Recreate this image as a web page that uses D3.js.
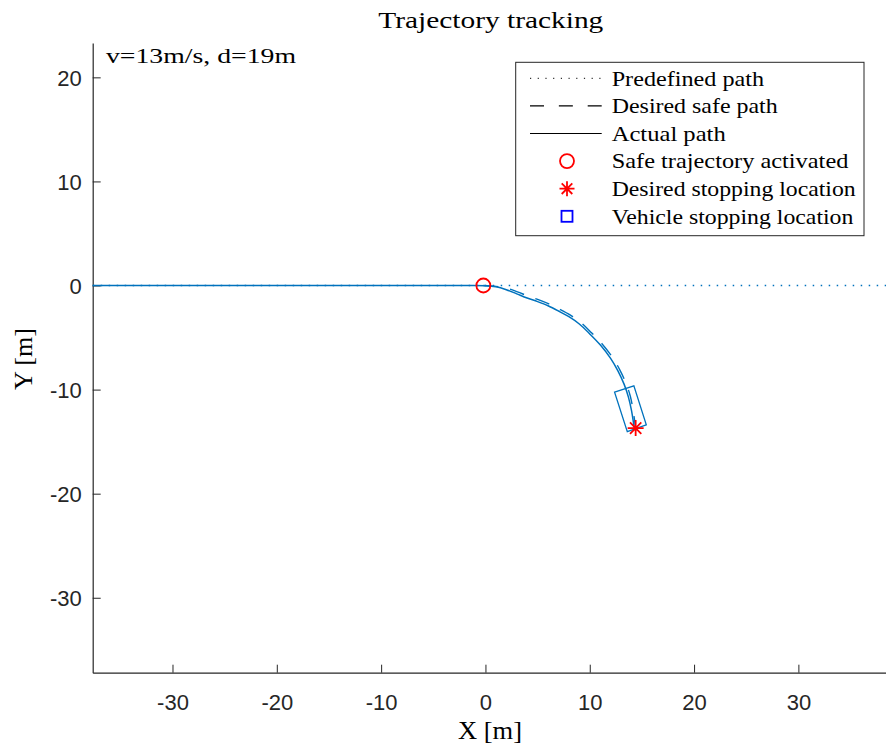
<!DOCTYPE html>
<html>
<head>
<meta charset="utf-8">
<script src="https://cdn.jsdelivr.net/npm/d3@7"></script>
<style>
  html, body { margin: 0; padding: 0; background: #fff; }
  svg { display: block; }
</style>
</head>
<body>
<svg id="chart" width="886" height="746"></svg>
<script>
// ---- data (metres) ----
const xTicks = [-30, -20, -10, 0, 10, 20, 30];
const xTickLabels = ["-30", "-20", "-10", "0", "10", "20", "30"];
const yTicks = [20, 10, 0, -10, -20, -30];
const yTickLabels = ["20", "10", "0", "-10", "-20", "-30"];

// straight reference road
const predefinedPath = [[-37.65, 0], [38.4, 0]];

// planned evasive path once the safe trajectory kicks in
const desiredPath = [
  [-0.2, 0], [1.0, -0.08], [2.05, -0.26], [3.07, -0.61], [4.07, -1.01],
  [5.07, -1.36], [6.08, -1.77], [7.09, -2.27], [8.11, -2.83], [9.13, -3.55],
  [10.14, -4.51], [11.15, -5.57], [12.17, -6.89], [12.88, -8.1], [13.49, -9.43],
  [13.89, -10.64], [14.15, -11.97], [14.4, -13.7]
];

// path actually driven by the vehicle
const actualPath = [
  [-37.65, 0], [-20, 0], [-10, 0], [-2, 0], [0, -0.02], [1, -0.12], [2, -0.4],
  [3, -0.8], [4, -1.2], [5, -1.55], [6, -1.95], [7, -2.45], [8, -3.0],
  [9, -3.7], [10, -4.65], [11, -5.7], [12, -7.0], [12.7, -8.2], [13.3, -9.5],
  [13.7, -10.7], [14.0, -12.0], [14.25, -13.6]
];

// vehicle footprint at rest (corner points)
const vehicleOutline = [[12.38, -10.25], [14.23, -9.64], [15.42, -13.39], [13.6, -14.04]];

const safeActivated = [-0.2, 0];
const desiredStop = [14.4, -13.7];

const legendLabels = [
  "Predefined path", "Desired safe path", "Actual path",
  "Safe trajectory activated", "Desired stopping location", "Vehicle stopping location"
];

// ---- layout ----
const svg = d3.select("#chart");
const plotLeft = 92.7, plotRight = 886, plotTop = 43, plotBottom = 672.7;
const x = d3.scaleLinear().domain([-37.65, 38.4]).range([plotLeft, plotRight]);
const y = d3.scaleLinear().domain([-37.2, 23.3]).range([plotBottom, plotTop]);

const axisColor = "#262626";
const lineBlue = "#0072BD";
const serif = "'Liberation Serif', 'Times New Roman', serif";
const sans = "'Liberation Sans', Arial, Helvetica, sans-serif";

// ---- axes ----
const gx = svg.append("g").attr("transform", `translate(0,${plotBottom})`)
  .call(d3.axisBottom(x).tickValues(xTicks).tickSizeInner(-8).tickSizeOuter(0)
    .tickFormat((d, i) => xTickLabels[i]));
const gy = svg.append("g").attr("transform", `translate(${plotLeft},0)`)
  .call(d3.axisLeft(y).tickValues(yTicks).tickSizeInner(-8).tickSizeOuter(0)
    .tickFormat((d, i) => yTickLabels[i]));

[gx, gy].forEach(g => {
  g.select(".domain").attr("stroke", axisColor).attr("stroke-width", 1.2);
  g.selectAll(".tick line").attr("stroke", axisColor).attr("stroke-width", 1);
  g.selectAll(".tick text").attr("fill", axisColor)
    .style("font-family", sans).style("font-size", "22px");
});
gx.selectAll(".tick text").attr("y", 37.3).attr("dy", null);
gy.selectAll(".tick text").attr("x", -11).attr("dy", "0.35em");

// ---- paths ----
const line = d3.line().x(d => x(d[0])).y(d => y(d[1]));
const smooth = d3.line().x(d => x(d[0])).y(d => y(d[1])).curve(d3.curveCatmullRom.alpha(0.5));

const plot = svg.append("g");
plot.append("path").datum(predefinedPath).attr("d", line)
  .attr("fill", "none").attr("stroke", lineBlue).attr("stroke-width", 1.5)
  .attr("stroke-dasharray", "1.5,6.5");
plot.append("path").datum(desiredPath).attr("d", smooth)
  .attr("fill", "none").attr("stroke", lineBlue).attr("stroke-width", 1.4)
  .attr("stroke-dasharray", "15,12");
plot.append("path").datum(actualPath).attr("d", smooth)
  .attr("fill", "none").attr("stroke", lineBlue).attr("stroke-width", 1.5);
plot.append("path").datum(vehicleOutline).attr("d", d => line(d) + "Z")
  .attr("fill", "none").attr("stroke", lineBlue).attr("stroke-width", 1.3);

// markers
function asterisk(g, cx, cy, r, color) {
  const k = r * Math.SQRT1_2;
  g.append("path")
    .attr("d", `M${cx - r},${cy}L${cx + r},${cy}M${cx},${cy - r}L${cx},${cy + r}` +
      `M${cx - k},${cy - k}L${cx + k},${cy + k}M${cx - k},${cy + k}L${cx + k},${cy - k}`)
    .attr("stroke", color).attr("stroke-width", 1.8).attr("fill", "none");
}
plot.append("circle").attr("cx", x(safeActivated[0])).attr("cy", y(safeActivated[1]))
  .attr("r", 7).attr("fill", "none").attr("stroke", "#ff0000").attr("stroke-width", 1.8);
asterisk(plot, x(desiredStop[0]), y(desiredStop[1]), 8, "#ff0000");

// ---- legend ----
const lg = svg.append("g");
lg.append("rect").attr("x", 515.7).attr("y", 62.3).attr("width", 348.3).attr("height", 173.4)
  .attr("fill", "#fff").attr("stroke", axisColor).attr("stroke-width", 1);
const rowY = i => 78.3 + i * 27.6;
const textWidths = [152.3, 166, 114, 236.7, 244, 241.7];
legendLabels.forEach((t, i) => {
  lg.append("text").attr("x", 611.7).attr("y", rowY(i)).attr("dy", "0.33em")
    .attr("textLength", textWidths[i]).attr("lengthAdjust", "spacingAndGlyphs")
    .style("font-family", serif).style("font-size", "22px").attr("fill", "#000").text(t);
});
const s0 = 530, s1 = 601.7, sm = 567;
lg.append("line").attr("x1", s0).attr("x2", s1).attr("y1", rowY(0)).attr("y2", rowY(0))
  .attr("stroke", "#000").attr("stroke-width", 1).attr("stroke-dasharray", "1.2,6.5");
lg.append("line").attr("x1", s0).attr("x2", s1).attr("y1", rowY(1)).attr("y2", rowY(1))
  .attr("stroke", "#000").attr("stroke-width", 1.2).attr("stroke-dasharray", "14,14.85");
lg.append("line").attr("x1", s0).attr("x2", s1).attr("y1", rowY(2)).attr("y2", rowY(2))
  .attr("stroke", "#000").attr("stroke-width", 1.2);
lg.append("circle").attr("cx", sm).attr("cy", rowY(3)).attr("r", 7)
  .attr("fill", "none").attr("stroke", "#ff0000").attr("stroke-width", 1.8);
asterisk(lg, sm, rowY(4), 7.5, "#ff0000");
lg.append("rect").attr("x", sm - 5.5).attr("y", rowY(5) - 5.5).attr("width", 11).attr("height", 11)
  .attr("fill", "none").attr("stroke", "#0000ff").attr("stroke-width", 1.8);

// ---- texts ----
svg.append("text").attr("x", 490.8).attr("y", 28).attr("text-anchor", "middle")
  .attr("textLength", 225).attr("lengthAdjust", "spacingAndGlyphs")
  .style("font-family", serif).style("font-size", "23px").text("Trajectory tracking");
svg.append("text").attr("x", 106).attr("y", 63.3)
  .attr("textLength", 190).attr("lengthAdjust", "spacingAndGlyphs")
  .style("font-family", serif).style("font-size", "22px").text("v=13m/s, d=19m");
svg.append("text").attr("x", 490).attr("y", 739).attr("text-anchor", "middle")
  .attr("textLength", 64).attr("lengthAdjust", "spacingAndGlyphs")
  .style("font-family", serif).style("font-size", "26px").text("X [m]");
svg.append("text").attr("transform", "translate(32,359) rotate(-90)").attr("text-anchor", "middle")
  .attr("textLength", 62).attr("lengthAdjust", "spacingAndGlyphs")
  .style("font-family", serif).style("font-size", "26px").text("Y [m]");
</script>
</body>
</html>
